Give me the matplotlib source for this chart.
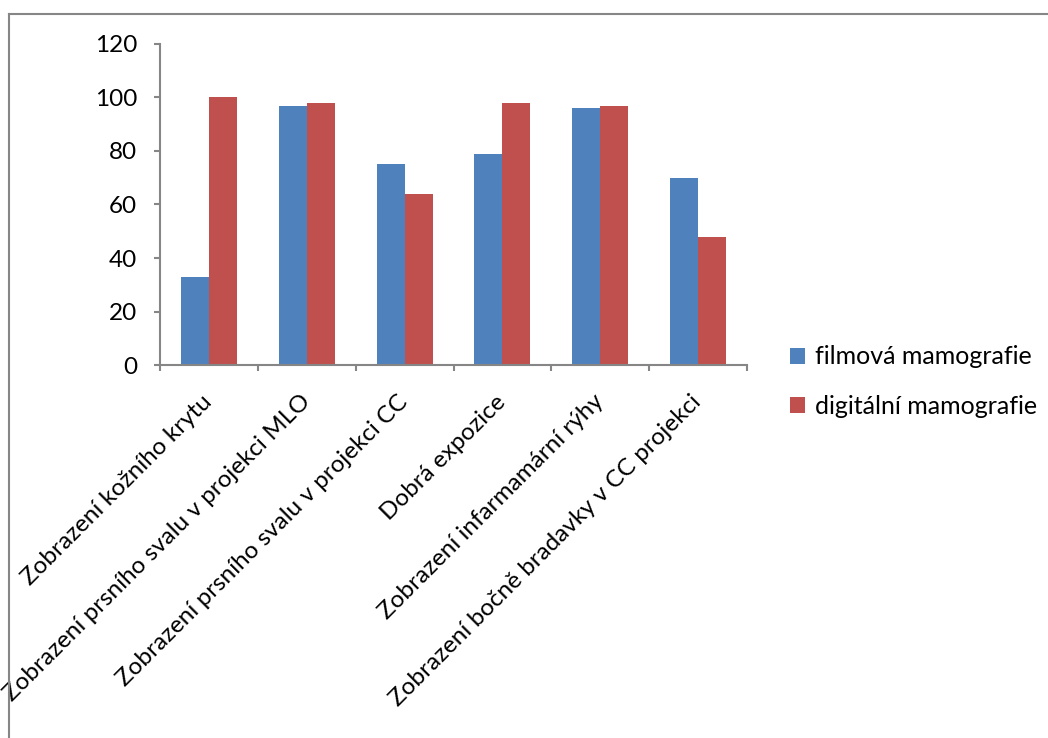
import matplotlib.pyplot as plt
import numpy as np
from matplotlib.lines import Line2D

plt.rcParams['font.family'] = ['Lato', 'DejaVu Sans']

kategorie = ["Zobrazení kožního krytu",
             "Zobrazení prsního svalu v projekci MLO",
             "Zobrazení prsního svalu v projekci CC",
             "Dobrá expozice",
             "Zobrazení infarmamární rýhy",
             "Zobrazení bočně bradavky v CC projekci"]
filmova = [33, 97, 75, 79, 96, 70]
digitalni = [100, 98, 64, 98, 97, 48]
serie = ["filmová mamografie", "digitální mamografie"]

modra = "#4F81BD"
cervena = "#C0504D"
seda = "#868686"

fig = plt.figure(figsize=(10.48, 7.38), dpi=100)
ax = fig.add_axes([0.1527, 0.5054, 0.5601, 0.435])

x = np.arange(len(kategorie))
w = 0.286
ax.bar(x - w / 2, filmova, w, color=modra, label=serie[0])
ax.bar(x + w / 2, digitalni, w, color=cervena, label=serie[1])

ax.set_xlim(-0.5, len(kategorie) - 0.5)
ax.set_ylim(0, 120)
ax.set_yticks(range(0, 121, 20))

# category boundaries carry the tick marks, labels sit at the centres
ax.set_xticks(np.arange(-0.5, len(kategorie), 1.0))
ax.set_xticklabels([])
ax.set_xticks(x, minor=True)
ax.set_xticklabels(kategorie, minor=True, rotation=45, ha='right', va='center',
                   rotation_mode='anchor', fontsize=17.5)
ax.tick_params(axis='x', which='minor', length=0, pad=24)
ax.tick_params(axis='x', which='major', length=4.5, color=seda, width=1.5)
ax.tick_params(axis='y', length=4.5, color=seda, width=1.5, labelsize=17.5, pad=12)

for s in ['top', 'right']:
    ax.spines[s].set_visible(False)
for s in ['left', 'bottom']:
    ax.spines[s].set_color(seda)
    ax.spines[s].set_linewidth(1.5)

fig.legend(loc='upper left', bbox_to_anchor=(0.7535, 0.532), frameon=False,
           fontsize=18, handlelength=0.6, handleheight=0.6, handletextpad=0.4,
           labelspacing=1.05, borderaxespad=0, borderpad=0)

# chart area border
fig.add_artist(Line2D([9 / 1048, 9 / 1048], [0, 1 - 14 / 738],
                      transform=fig.transFigure, color=seda, lw=1.5))
fig.add_artist(Line2D([9 / 1048, 1], [1 - 14 / 738, 1 - 14 / 738],
                      transform=fig.transFigure, color=seda, lw=1.5))

fig.savefig("out.png", dpi=100)
